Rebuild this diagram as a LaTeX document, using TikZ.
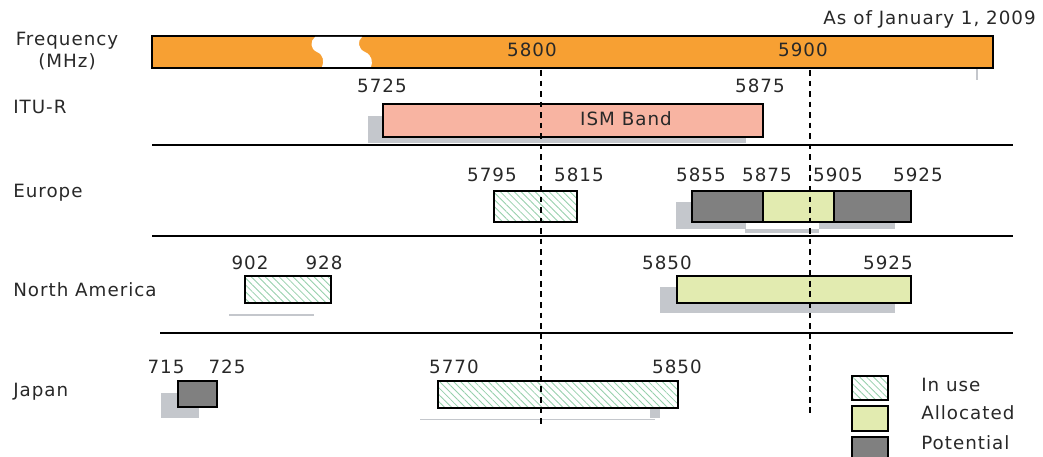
\documentclass[tikz,border=0pt]{standalone}
\usepackage{fontspec}
\setmainfont[LetterSpace=5.5]{DejaVu Sans}
\usetikzlibrary{patterns.meta}
\definecolor{frqorange}{RGB}{247,160,51}
\definecolor{ismsalmon}{RGB}{248,180,162}
\definecolor{allocgreen}{RGB}{226,235,176}
\definecolor{potgray}{RGB}{128,128,128}
\definecolor{shadowgray}{RGB}{196,199,204}
\definecolor{hatchgreen}{RGB}{150,208,172}
\definecolor{txtgray}{RGB}{40,40,40}

\begin{document}
\begin{tikzpicture}[x=0.025cm, y=-0.025cm,
  bandbox/.style={draw=black, line width=1.3pt},
  inuse/.style={
    bandbox, preaction={fill=white},
    pattern={Lines[angle=-45, distance=3.5pt, line width=0.6pt]},
    pattern color=hatchgreen
  },
  allocbox/.style={bandbox, fill=allocgreen},
  potbox/.style={bandbox, fill=potgray},
  shadow/.style={fill=shadowgray},
  freqlbl/.style={font=\fontsize{13}{15.5}\selectfont, text=txtgray, inner sep=0pt},
  rowlbl/.style={freqlbl, anchor=west},
  sepline/.style={line width=1.3pt},
  marker/.style={line width=1.3pt, dash pattern=on 4pt off 3.5pt}
]
\useasboundingbox (0,0) rectangle (1043,457);

% frequency axis
\node[freqlbl, anchor=east] (asof) at (1036,19) {As of January 1, 2009};
\node[freqlbl, align=center] (freq) at (67,51) {Frequency\\(MHz)};
\draw[bandbox, fill=frqorange] (152,36) rectangle (993,68);
\fill[white] (315,37) .. controls (310,41) and (310,49) .. (317,52)
  .. controls (324,55) and (324,62) .. (322,67) -- (371,67)
  .. controls (373,62) and (372,55) .. (365,52)
  .. controls (358,49) and (357,41) .. (362,37) -- cycle;
\draw[shadowgray, line width=1.5pt] (977,69) -- (977,80);
\node[freqlbl] (f5800) at (532,50) {5800};
\node[freqlbl] (f5900) at (803,50) {5900};

% ITU-R
\node[rowlbl] (itu) at (13,107) {ITU-R};
\fill[shadow] (368,116) rectangle (746,143);
\draw[bandbox, fill=ismsalmon] (383,104) rectangle (763,137);
\node[freqlbl] (ism) at (626,119) {ISM Band};
\node[freqlbl] (i5725) at (382,86) {5725};
\node[freqlbl] (i5875) at (760,86) {5875};
\draw[sepline] (152,145) -- (1013,145);

% Europe
\node[rowlbl] (eu) at (13,193) {Europe};
\node[freqlbl] (e5795) at (492,175) {5795};
\node[freqlbl] (e5815) at (579,175) {5815};
\node[freqlbl] (e5855) at (701,175) {5855};
\node[freqlbl] (e5875) at (767,175) {5875};
\node[freqlbl] (e5905) at (838,175) {5905};
\node[freqlbl] (e5925) at (918,175) {5925};
\draw[inuse] (494,191) rectangle (577,222);
\fill[shadow] (676,202) rectangle (746,229);
\fill[shadow] (745,229) rectangle (819,233);
\fill[shadow] (819,202) rectangle (895,229);
\draw[potbox] (692,191) rectangle (763,222);
\draw[allocbox] (763,191) rectangle (834,222);
\draw[potbox] (834,191) rectangle (911,222);
\draw[sepline] (152,236) -- (1013,236);

% North America
\node[rowlbl] (na) at (13,290) {North America};
\node[freqlbl] (n902) at (250,263) {902};
\node[freqlbl] (n928) at (324,263) {928};
\node[freqlbl] (n5850) at (667,263) {5850};
\node[freqlbl] (n5925) at (888,263) {5925};
\draw[shadowgray, line width=1.5pt] (229,315) -- (314,315);
\draw[inuse] (245,276) rectangle (331,303);
\fill[shadow] (660,287) rectangle (895,313);
\draw[allocbox] (677,276) rectangle (911,303);
\draw[sepline] (160,333) -- (1013,333);

% Japan
\node[rowlbl] (jp) at (13,392) {Japan};
\node[freqlbl] (j715) at (166,367) {715};
\node[freqlbl] (j725) at (227,367) {725};
\node[freqlbl] (j5770) at (454,367) {5770};
\node[freqlbl] (j5850) at (677,367) {5850};
\fill[shadow] (161,393) rectangle (199,418);
\draw[potbox] (178,381) rectangle (217,407);
\draw[shadowgray, line width=0.6pt] (420,419) -- (655,419);
\fill[shadow] (650,408) rectangle (660,418);
\draw[inuse] (438,381) rectangle (678,408);

% reference frequencies
\draw[marker] (541,70) -- (541,425);
\draw[marker] (810,70) -- (810,415);

% legend
\draw[inuse] (852,376) rectangle (888,400);
\draw[allocbox] (852,406) rectangle (888,431);
\draw[potbox] (852,437) rectangle (888,465);
\node[rowlbl] (lgin) at (921,385) {In use};
\node[rowlbl] (lgal) at (921,413) {Allocated};
\node[rowlbl] (lgpo) at (921,443) {Potential};
\end{tikzpicture}
\end{document}
